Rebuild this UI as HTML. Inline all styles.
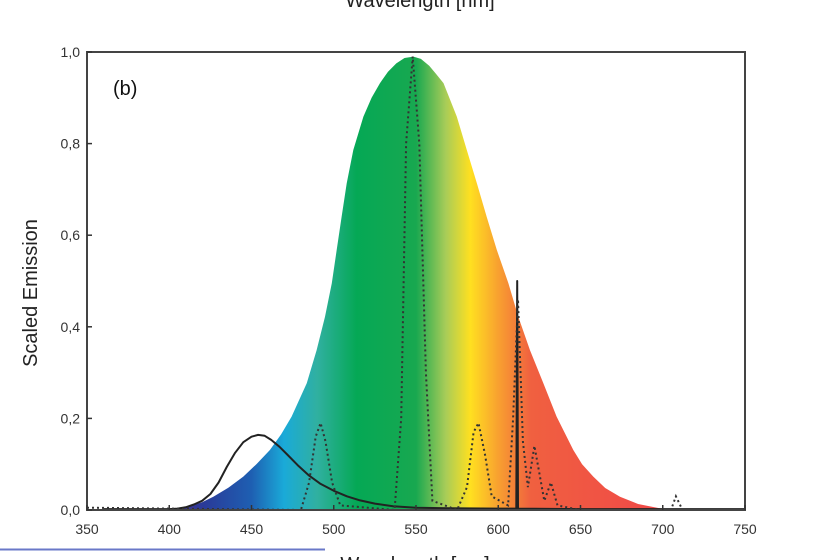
<!DOCTYPE html>
<html><head><meta charset="utf-8">
<style>
html,body{margin:0;padding:0;background:#fff;}
body{width:818px;height:560px;overflow:hidden;position:relative;font-family:"Liberation Sans",sans-serif;}
svg{position:absolute;left:0;top:0;}
</style></head>
<body>
<svg width="818" height="560">
<defs>
<linearGradient id="spec" gradientUnits="userSpaceOnUse" x1="169" y1="0" x2="663" y2="0">
<stop offset="0" stop-color="#4a3090"/>
<stop offset="0.07" stop-color="#2a3a98"/>
<stop offset="0.167" stop-color="#1e5fb2"/>
<stop offset="0.233" stop-color="#1aaad8"/>
<stop offset="0.30" stop-color="#30b0a0"/>
<stop offset="0.38" stop-color="#05a855"/>
<stop offset="0.5" stop-color="#18a850"/>
<stop offset="0.56" stop-color="#a8cc58"/>
<stop offset="0.61" stop-color="#ffe020"/>
<stop offset="0.667" stop-color="#f8a030"/>
<stop offset="0.733" stop-color="#f06040"/>
<stop offset="1" stop-color="#f04848"/>
</linearGradient>
</defs>
<text x="420" y="7" font-size="20" text-anchor="middle" fill="#222">Wavelength [nm]</text>
<g id="plot"></g>
<text transform="translate(37,293) rotate(-90)" font-size="20" text-anchor="middle" fill="#222">Scaled Emission</text>
<text x="113" y="95" font-size="20" fill="#111">(b)</text>
<line x1="0" y1="549.5" x2="325" y2="549.5" stroke="#6a78c8" stroke-width="2"/>
<text x="415" y="571" font-size="20" text-anchor="middle" fill="#222">Wavelength [nm]</text>
</svg>
<script>
const envNm=[400,412,420,426.8,436,445,453,461.2,468,474.4,483.6,489.6,494.7,498.8,501.8,504.8,507.9,511.9,518,523,528.1,533,538,543,548.4,553,558,562,566.7,574.8,580.9,587,593,599.1,606.2,612.2,619.3,627.4,635.5,645.6,651,657.8,665,674,685,698,705];
const envVal=[0,0.008,0.017,0.029,0.049,0.073,0.1,0.131,0.165,0.204,0.277,0.349,0.422,0.495,0.568,0.64,0.713,0.786,0.859,0.9,0.932,0.957,0.975,0.987,0.99,0.985,0.97,0.953,0.932,0.859,0.786,0.713,0.64,0.568,0.495,0.422,0.349,0.277,0.204,0.131,0.1,0.073,0.048,0.029,0.013,0.004,0];
const solidNm=[360,400,405,410,415,420,425,430,435,440,445,450,454,458,462,467,472,478,485,492,500,508,516,525,536,550,570,600,611,611.5,612,650,700,750];
const solidVal=[0.002,0.002,0.003,0.006,0.012,0.02,0.035,0.06,0.094,0.125,0.148,0.16,0.164,0.162,0.153,0.138,0.12,0.098,0.075,0.057,0.042,0.03,0.021,0.014,0.008,0.005,0.004,0.003,0.003,0.5,0.003,0.002,0.002,0.002];
const dotNm=[350,480,485,489,492,495,499,504,537,541,544,548,552,556,560,575,581,585,588,592,596,606,609,612,615,618,622,625,628,632,636,650,705,708,712,750];
const dotVal=[0.005,0,0.06,0.16,0.19,0.15,0.06,0.01,0,0.2,0.8,0.99,0.8,0.3,0.02,0,0.05,0.17,0.19,0.12,0.03,0.01,0.2,0.46,0.15,0.05,0.14,0.08,0.02,0.06,0.01,0,0,0.03,0,0];
const xTicks=[350,400,450,500,550,600,650,700,750];
const yTicks=[0,0.2,0.4,0.6,0.8,1.0];
const yLabels=["0,0","0,2","0,4","0,6","0,8","1,0"];
const X0=87,X1=745,Y0=510,Y1=52;
const xs=v=>X0+(v-350)/400*(X1-X0);
const ys=v=>Y0-v*(Y0-Y1);
const NS="http://www.w3.org/2000/svg";
const g=document.getElementById('plot');
function mk(t,a){const e=document.createElementNS(NS,t);for(const k in a)e.setAttribute(k,a[k]);g.appendChild(e);return e;}
function pts(n,v){return n.map((x,i)=>xs(x).toFixed(1)+','+ys(v[i]).toFixed(1)).join(' ');}
let env=mk('polygon',{points:pts(envNm,envVal),fill:'url(#spec)','stroke-linejoin':'round'});


let sl=mk('polyline',{points:pts(solidNm,solidVal),fill:'none',stroke:'#222','stroke-width':2,'stroke-linejoin':'round'});


let dl=mk('polyline',{points:pts(dotNm,dotVal),fill:'none',stroke:'#333','stroke-width':2,'stroke-dasharray':'2,3'});


let fr=mk('rect',{x:X0,y:Y1,width:X1-X0,height:Y0-Y1,fill:'none',stroke:'#444','stroke-width':2});


xTicks.forEach(t=>{
 const l=mk('line',{x1:xs(t),x2:xs(t),y1:Y0,y2:Y0-5,stroke:'#333','stroke-width':1.5});
 
 
 const tx=mk('text',{x:xs(t),y:534,'font-size':14,'text-anchor':'middle',fill:'#333'});
 tx.textContent=t;
 
 
});
yTicks.forEach((t,i)=>{
 const l=mk('line',{x1:X0,x2:X0+5,y1:ys(t),y2:ys(t),stroke:'#333','stroke-width':1.5});
 
 
 const tx=mk('text',{x:80,y:ys(t)+5,'font-size':14,'text-anchor':'end',fill:'#333'});
 tx.textContent=yLabels[i];
 
 
});
</script>
</body></html>
